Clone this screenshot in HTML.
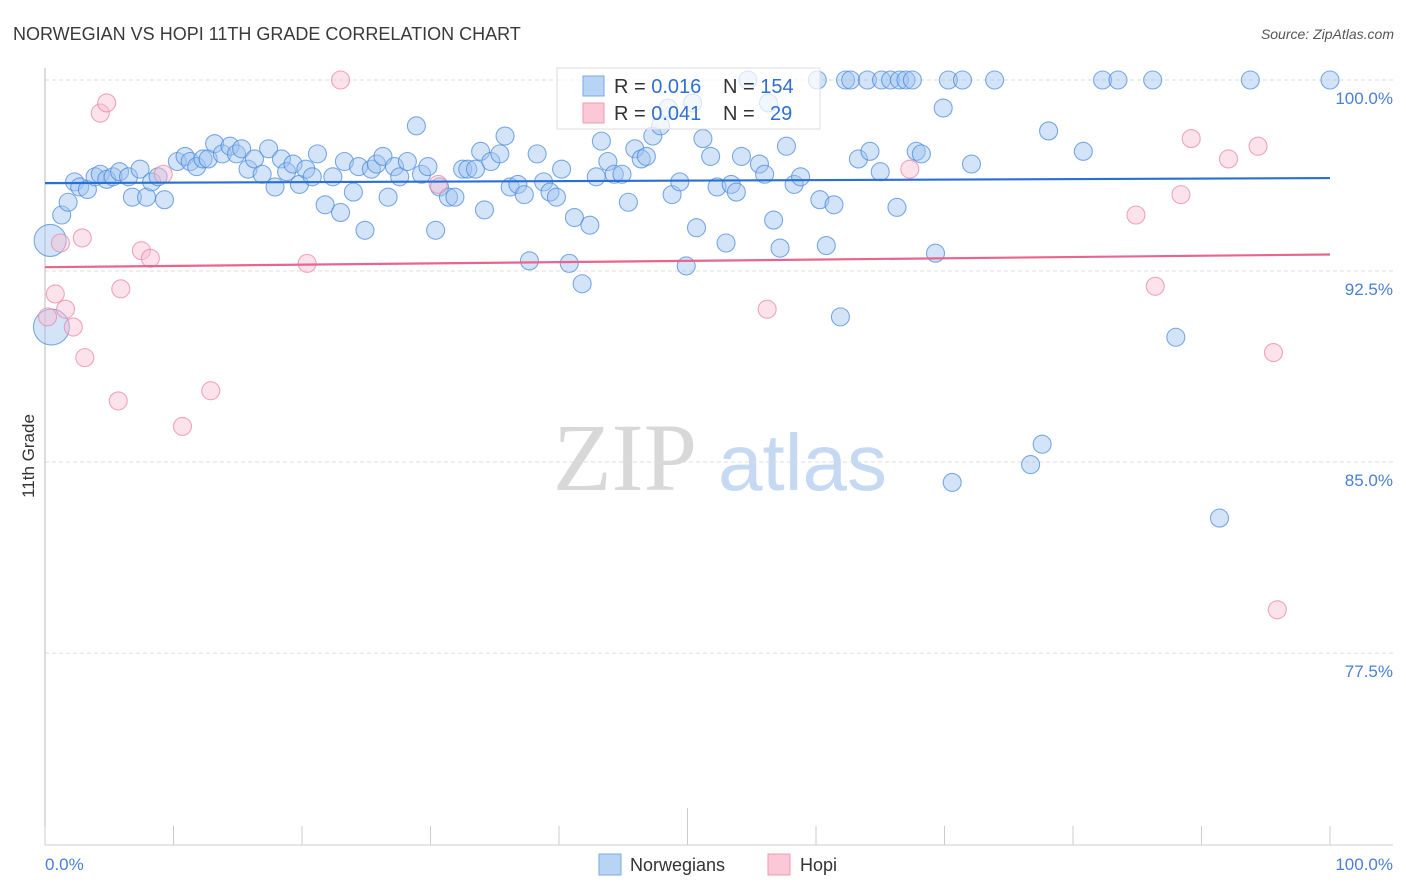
<!DOCTYPE html>
<html><head><meta charset="utf-8"><style>
html,body{margin:0;padding:0;background:#fff;width:1406px;height:892px;overflow:hidden;font-family:"Liberation Sans",sans-serif}
svg{display:block}
</style></head><body>
<svg id="chart" width="1406" height="892" xmlns="http://www.w3.org/2000/svg" font-family="Liberation Sans, sans-serif">
<text x="13" y="40" font-size="18" fill="#3a3a3a">NORWEGIAN VS HOPI 11TH GRADE CORRELATION CHART</text>
<text x="1394" y="39" font-size="14" font-style="italic" fill="#555" text-anchor="end">Source: ZipAtlas.com</text>
<g>
<text x="553" y="490" font-size="96" font-family="Liberation Serif, serif" fill="#d8d8d8">ZIP</text>
<text x="718" y="490" font-size="80" fill="#c5d9f2">atlas</text>
</g>
<g id="grid"></g>
<g id="axes"></g>
<g id="pts"></g>
<g id="trend"></g>
<text transform="translate(34,456) rotate(-90)" font-size="17" fill="#333" text-anchor="middle">11th Grade</text>
<text x="45" y="870" font-size="17" fill="#4a7fd6">0.0%</text>
<text x="1393" y="870" font-size="17" fill="#4a7fd6" text-anchor="end">100.0%</text>
<g>
<rect x="557" y="68" width="263" height="61" fill="rgba(255,255,255,0.7)" stroke="#ddd"/>
<rect x="583" y="76" width="21" height="20" fill="#b8d4f5" stroke="#7aa8e6"/>
<rect x="583" y="103" width="21" height="20" fill="#fac8d6" stroke="#f09ab3"/>
<text x="614" y="93" font-size="20" fill="#333">R = <tspan fill="#2f6fd0">0.016</tspan></text>
<text x="723" y="93" font-size="20" fill="#333">N = <tspan fill="#2f6fd0">154</tspan></text>
<text x="614" y="120" font-size="20" fill="#333">R = <tspan fill="#2f6fd0">0.041</tspan></text>
<text x="723" y="120" font-size="20" fill="#333">N = <tspan fill="#2f6fd0" x="770">29</tspan></text>
</g>
<g>
<rect x="599" y="854" width="22" height="21" fill="#b8d4f5" stroke="#7aa8e6"/>
<text x="630" y="871" font-size="18" fill="#333">Norwegians</text>
<rect x="768" y="854" width="22" height="21" fill="#fac8d6" stroke="#f09ab3"/>
<text x="800" y="871" font-size="18" fill="#333">Hopi</text>
</g>
</svg>
<script>
const yTicks = [100, 92.5, 85, 77.5];
const yTickLabels = ["100.0%", "92.5%", "85.0%", "77.5%"];
const xTicks = [0,10,20,30,40,50,60,70,80,90,100];
const blueX = [0.4,0.5,1.3,1.8,2.3,2.7,3.3,3.9,4.3,4.8,5.3,5.8,6.5,6.8,7.4,7.9,8.3,8.8,9.3,10.3,10.9,11.3,11.8,12.3,12.7,13.2,13.8,14.4,14.9,15.3,15.8,16.3,16.9,17.4,17.9,18.4,18.8,19.3,19.8,20.3,20.8,21.2,21.8,22.4,23.0,23.3,24.0,24.4,24.9,25.4,25.8,26.3,26.7,27.2,27.6,28.2,28.9,29.3,29.8,30.4,30.7,31.4,31.9,32.5,32.9,33.5,33.9,34.2,34.7,35.4,35.8,36.2,36.8,37.3,37.7,38.3,38.8,39.3,39.8,40.2,40.8,41.2,41.8,42.4,42.9,43.3,43.8,44.3,44.9,45.4,45.9,46.4,46.8,47.3,47.9,48.5,48.8,49.4,49.9,50.7,51.2,51.8,52.3,53.0,53.4,53.8,54.2,55.6,56.0,56.7,57.2,57.7,58.3,58.8,60.3,60.8,61.4,61.9,63.3,64.2,65.0,66.3,67.8,68.2,69.3,69.9,70.6,72.1,76.7,77.6,78.1,80.8,88.0,91.4,54.7,60.1,62.3,62.7,64.0,65.1,65.8,66.5,67.0,67.5,70.3,71.4,73.9,82.3,83.5,86.2,93.8,100,56.3,50.4];
const blueY = [93.7,90.3,94.7,95.2,96.0,95.8,95.7,96.2,96.3,96.1,96.2,96.4,96.2,95.4,96.5,95.4,96.0,96.2,95.3,96.8,97.0,96.8,96.6,96.9,96.9,97.5,97.1,97.4,97.1,97.3,96.5,96.9,96.3,97.3,95.8,96.9,96.4,96.7,95.9,96.5,96.2,97.1,95.1,96.2,94.8,96.8,95.6,96.6,94.1,96.5,96.7,97.0,95.4,96.6,96.2,96.8,98.2,96.3,96.6,94.1,95.8,95.4,95.4,96.5,96.5,96.5,97.2,94.9,96.8,97.1,97.8,95.8,95.9,95.5,92.9,97.1,96.0,95.6,95.4,96.5,92.8,94.6,92.0,94.3,96.2,97.6,96.8,96.3,96.3,95.2,97.3,96.9,97.0,97.8,98.2,98.9,95.5,96.0,92.7,94.2,97.7,97.0,95.8,93.6,95.9,95.6,97.0,96.7,96.3,94.5,93.4,97.4,95.9,96.2,95.3,93.5,95.1,90.7,96.9,97.2,96.4,95.0,97.2,97.1,93.2,98.9,84.2,96.7,84.9,85.7,98.0,97.2,89.9,82.8,100,100,100,100,100,100,100,100,100,100,100,100,100,100,100,100,100,100,99.1,99.1];
const blueSize = {0:16,1:18};
const pinkX = [0.2,0.8,1.2,1.6,2.2,2.9,3.1,4.3,4.8,5.7,5.9,7.5,8.2,9.2,10.7,12.9,20.4,23.0,30.6,56.2,67.3,84.9,86.4,88.4,89.2,92.1,94.4,95.6,95.9];
const pinkY = [90.7,91.6,93.6,91.0,90.3,93.8,89.1,98.7,99.1,87.4,91.8,93.3,93.0,96.3,86.4,87.8,92.8,100,95.9,91.0,96.5,94.7,91.9,95.5,97.7,96.9,97.4,89.3,79.2];
const blueTrend = [95.95, 96.15];
const pinkTrend = [92.65, 93.15];

const NS = "http://www.w3.org/2000/svg";
const X = v => 45 + v * 12.85;
const Y = v => 80 + (100 - v) * 25.47;
function mk(tag, attrs, parent){const e=document.createElementNS(NS,tag);for(const k in attrs)e.setAttribute(k,attrs[k]);parent.appendChild(e);return e;}
const grid=document.getElementById('grid'), axes=document.getElementById('axes'), pts=document.getElementById('pts'), trend=document.getElementById('trend');
yTicks.forEach((t,i)=>{
  const l=mk('line',{x1:45,x2:1393,y1:Y(t),y2:Y(t),stroke:'#ddd','stroke-dasharray':'4,3'},grid);
  
  
  const tx=mk('text',{x:1393,y:Y(t)+24,'font-size':17,fill:'#4a7fd6','text-anchor':'end'},grid);
  tx.textContent=yTickLabels[i];
  
  
});
const ax=mk('line',{x1:45,x2:45,y1:68,y2:845,stroke:'#bbb'},axes);


const bx=mk('line',{x1:45,x2:1393,y1:845,y2:845,stroke:'#ccc'},axes);


xTicks.forEach(t=>{
  const tk=mk('line',{x1:X(t),x2:X(t),y1:(t===50?808:826),y2:845,stroke:'#ccc'},axes);
  
  
});
blueX.forEach((v,i)=>{
  const c=mk('circle',{cx:X(v),cy:Y(blueY[i]),r:blueSize[i]||9,fill:'rgba(160,196,240,0.45)',stroke:'rgba(70,135,220,0.7)','stroke-width':1.1},pts);
  
  
});
pinkX.forEach((v,i)=>{
  const c=mk('circle',{cx:X(v),cy:Y(pinkY[i]),r:9,fill:'rgba(248,190,208,0.45)',stroke:'rgba(235,130,165,0.7)','stroke-width':1.1},pts);
  
  
});
const bt=mk('line',{x1:X(0),x2:X(100),y1:Y(blueTrend[0]),y2:Y(blueTrend[1]),stroke:'#2a6fd6','stroke-width':2.2},trend);


const pt=mk('line',{x1:X(0),x2:X(100),y1:Y(pinkTrend[0]),y2:Y(pinkTrend[1]),stroke:'#e8658e','stroke-width':2.2},trend);


</script>
</body></html>
